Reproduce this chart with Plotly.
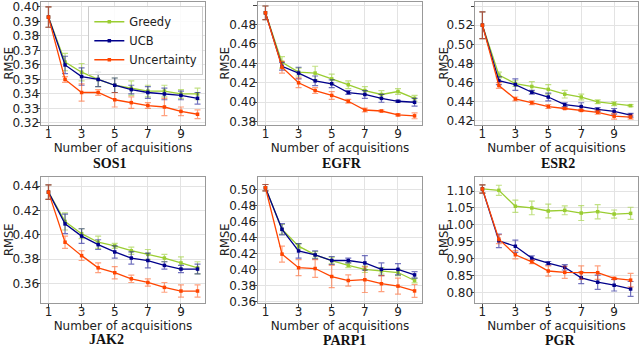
import plotly.graph_objects as go
from plotly.subplots import make_subplots

acquisitions = [1, 2, 3, 4, 5, 6, 7, 8, 9, 10]
targets = ["SOS1", "EGFR", "ESR2", "JAK2", "PARP1", "PGR"]
strategies = ["Greedy", "UCB", "Uncertainty"]

# mean RMSE and error per target, per strategy (Greedy, UCB, Uncertainty)
sos1_mean = [
    [0.393, 0.362, 0.355, 0.350, 0.346, 0.344, 0.342, 0.342, 0.340, 0.340],
    [0.393, 0.360, 0.352, 0.350, 0.346, 0.343, 0.341, 0.340, 0.339, 0.337],
    [0.393, 0.350, 0.341, 0.341, 0.336, 0.334, 0.332, 0.331, 0.328, 0.326],
]
sos1_err = [
    [0.007, 0.006, 0.006, 0.005, 0.005, 0.005, 0.004, 0.004, 0.003, 0.004],
    [0.007, 0.006, 0.006, 0.005, 0.005, 0.003, 0.004, 0.004, 0.003, 0.004],
    [0.007, 0.002, 0.006, 0.002, 0.005, 0.004, 0.002, 0.006, 0.003, 0.003],
]
egfr_mean = [
    [0.492, 0.441, 0.431, 0.430, 0.424, 0.418, 0.412, 0.408, 0.411, 0.404],
    [0.492, 0.437, 0.430, 0.422, 0.419, 0.410, 0.408, 0.404, 0.401, 0.400],
    [0.492, 0.436, 0.420, 0.412, 0.407, 0.401, 0.392, 0.391, 0.387, 0.386],
]
egfr_err = [
    [0.007, 0.006, 0.004, 0.007, 0.005, 0.004, 0.004, 0.004, 0.003, 0.003],
    [0.007, 0.004, 0.006, 0.005, 0.004, 0.002, 0.004, 0.004, 0.001, 0.004],
    [0.007, 0.006, 0.005, 0.003, 0.004, 0.002, 0.002, 0.001, 0.001, 0.003],
]
esr2_mean = [
    [0.520, 0.468, 0.459, 0.456, 0.453, 0.448, 0.445, 0.440, 0.438, 0.436],
    [0.520, 0.462, 0.458, 0.450, 0.445, 0.437, 0.435, 0.432, 0.430, 0.426],
    [0.520, 0.457, 0.443, 0.439, 0.435, 0.433, 0.431, 0.429, 0.425, 0.424],
]
esr2_err = [
    [0.014, 0.003, 0.003, 0.005, 0.005, 0.004, 0.003, 0.002, 0.002, 0.001],
    [0.014, 0.004, 0.006, 0.002, 0.004, 0.002, 0.004, 0.002, 0.003, 0.002],
    [0.014, 0.003, 0.002, 0.002, 0.002, 0.001, 0.001, 0.002, 0.003, 0.002],
]
jak2_mean = [
    [0.435, 0.411, 0.401, 0.394, 0.391, 0.387, 0.384, 0.381, 0.377, 0.373],
    [0.435, 0.409, 0.399, 0.392, 0.386, 0.381, 0.379, 0.375, 0.372, 0.372],
    [0.435, 0.394, 0.383, 0.373, 0.369, 0.364, 0.361, 0.357, 0.354, 0.354],
]
jak2_err = [
    [0.006, 0.007, 0.004, 0.005, 0.002, 0.003, 0.004, 0.003, 0.005, 0.005],
    [0.006, 0.008, 0.006, 0.004, 0.005, 0.005, 0.006, 0.003, 0.003, 0.004],
    [0.006, 0.005, 0.004, 0.004, 0.005, 0.003, 0.003, 0.004, 0.005, 0.005],
]
parp1_mean = [
    [0.502, 0.450, 0.429, 0.418, 0.411, 0.405, 0.400, 0.398, 0.396, 0.386],
    [0.502, 0.450, 0.423, 0.418, 0.411, 0.411, 0.408, 0.400, 0.400, 0.393],
    [0.502, 0.419, 0.402, 0.401, 0.391, 0.386, 0.387, 0.382, 0.379, 0.373],
]
parp1_err = [
    [0.004, 0.006, 0.003, 0.004, 0.004, 0.003, 0.004, 0.004, 0.004, 0.003],
    [0.004, 0.007, 0.009, 0.005, 0.005, 0.003, 0.009, 0.008, 0.007, 0.004],
    [0.004, 0.010, 0.010, 0.011, 0.014, 0.007, 0.016, 0.010, 0.010, 0.008],
]
pgr_mean = [
    [1.106, 1.102, 1.055, 1.050, 1.041, 1.043, 1.035, 1.039, 1.032, 1.034],
    [1.106, 0.953, 0.937, 0.902, 0.887, 0.875, 0.844, 0.831, 0.822, 0.811],
    [1.106, 0.958, 0.912, 0.891, 0.864, 0.860, 0.859, 0.859, 0.842, 0.837],
]
pgr_err = [
    [0.012, 0.015, 0.018, 0.020, 0.020, 0.013, 0.022, 0.021, 0.012, 0.018],
    [0.012, 0.020, 0.018, 0.007, 0.005, 0.008, 0.017, 0.021, 0.017, 0.022],
    [0.012, 0.013, 0.012, 0.005, 0.015, 0.018, 0.020, 0.020, 0.003, 0.020],
]

means = [sos1_mean, egfr_mean, esr2_mean, jak2_mean, parp1_mean, pgr_mean]
errs = [sos1_err, egfr_err, esr2_err, jak2_err, parp1_err, pgr_err]

line_colors = ["#9acd32", "#00008b", "#ff4500"]
err_colors = ["rgba(154,205,50,0.6)", "rgba(0,0,139,0.55)", "rgba(255,69,0,0.5)"]

y_ranges = [
    [0.3186, 0.4034], [0.3766, 0.5031], [0.4158, 0.5442],
    [0.3442, 0.4474], [0.3579, 0.5154], [0.7696, 1.1413],
]
y_ticks = [
    [0.32, 0.33, 0.34, 0.35, 0.36, 0.37, 0.38, 0.39, 0.40],
    [0.38, 0.40, 0.42, 0.44, 0.46, 0.48, 0.50],
    [0.42, 0.44, 0.46, 0.48, 0.50, 0.52, 0.54],
    [0.36, 0.38, 0.40, 0.42, 0.44],
    [0.36, 0.38, 0.40, 0.42, 0.44, 0.46, 0.48, 0.50],
    [0.80, 0.85, 0.90, 0.95, 1.00, 1.05, 1.10],
]

fig = make_subplots(rows=2, cols=3)

for i in range(6):
    r, c = i // 3 + 1, i % 3 + 1
    for k, s in enumerate(strategies):
        fig.add_trace(go.Scatter(
            x=acquisitions, y=means[i][k],
            mode="lines+markers",
            name=s, legendgroup=s, showlegend=(i == 0),
            line=dict(color=line_colors[k], width=1.3),
            marker=dict(color=line_colors[k], size=3.5, symbol="square"),
            error_y=dict(type="data", array=errs[i][k], color=err_colors[k],
                         thickness=1.2, width=3),
        ), row=r, col=c)

col_domains = [[0.0641, 0.3203], [0.4031, 0.6594], [0.7422, 0.9969]]
row_domains = [[0.6398, 0.9942], [0.1268, 0.4899]]
axis_font = dict(family="DejaVu Sans", size=12, color="#222")

for i in range(6):
    r, c = i // 3, i % 3
    n = i + 1
    xa = "xaxis" if n == 1 else f"xaxis{n}"
    ya = "yaxis" if n == 1 else f"yaxis{n}"
    fig.layout[xa].update(
        domain=col_domains[c], range=[0.55, 10.45], automargin=False,
        tickvals=[1, 3, 5, 7, 9], ticks="outside", ticklen=3.5, tickcolor="#444",
        ticklabelstandoff=-6,
        showgrid=True, gridcolor="#e3e3e3", gridwidth=1,
        showline=True, mirror=True, linecolor="#999", linewidth=1,
        zeroline=False, tickfont=axis_font,
        title=dict(text="Number of acquisitions", standoff=0,
                   font=dict(family="DejaVu Sans", size=12, color="#222")),
    )
    fig.layout[ya].update(
        domain=row_domains[r], range=y_ranges[i], automargin=False,
        tickvals=y_ticks[i], tickformat=".2f", ticks="outside", ticklen=3.5, tickcolor="#444",
        ticklabelstandoff=-5,
        showgrid=True, gridcolor="#e3e3e3", gridwidth=1,
        showline=True, mirror=True, linecolor="#999", linewidth=1,
        zeroline=False, tickfont=axis_font,
    )

# y titles as rotated labels, placed like the original
rmse_x = [0, 216, 435]
for i in range(6):
    r, c = i // 3, i % 3
    fig.add_annotation(
        text="RMSE", xref="paper", yref="paper", textangle=-90,
        x=rmse_x[c] / 640, y=sum(row_domains[r]) / 2,
        xanchor="left", yanchor="middle", showarrow=False,
        font=dict(family="DejaVu Sans", size=11.5, color="#222"),
    )

# bold serif captions under each panel
caption_x = [109, 342, 558, 106, 344, 560]
caption_y = [163, 163, 163, 339, 340, 340]
for i, t in enumerate(targets):
    fig.add_annotation(
        text=f"<b>{t}</b>", xref="paper", yref="paper",
        x=caption_x[i] / 640, y=1 - caption_y[i] / 347,
        xanchor="center", yanchor="middle", showarrow=False,
        font=dict(family="Liberation Serif", size=14, color="#111"),
    )

fig.update_layout(
    width=640, height=347,
    margin=dict(l=0, r=0, t=0, b=0),
    paper_bgcolor="white", plot_bgcolor="white",
    font=dict(family="DejaVu Sans", color="#222"),
    legend=dict(
        x=0.138, y=0.982, xanchor="left", yanchor="top",
        bgcolor="rgba(255,255,255,0.85)", bordercolor="#ccc", borderwidth=1,
        font=dict(family="DejaVu Sans", size=11.5, color="#222"),
        itemwidth=30, tracegroupgap=0,
    ),
)

# drop the default page margin so the figure sits at the window's corner
fig.write_html("out.html", config={"displayModeBar": False},
               post_script="document.body.style.margin='0';")
